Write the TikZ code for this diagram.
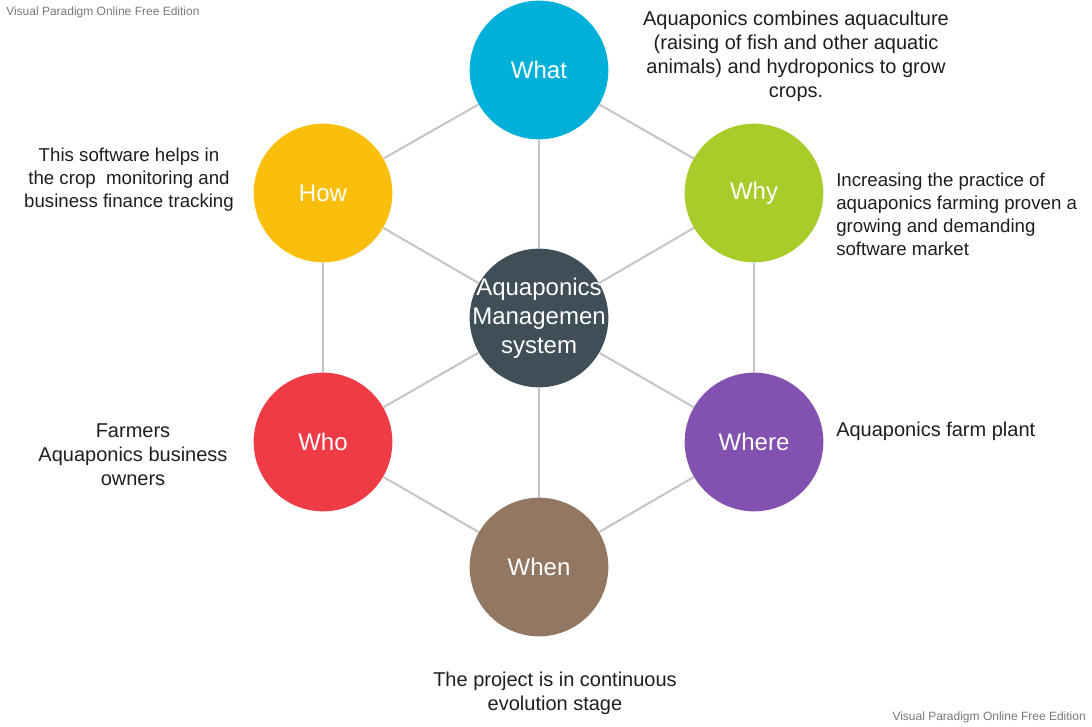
\documentclass[tikz,border=0pt]{standalone}
\usepackage{fontspec}
\setmainfont{Liberation Sans}
\usepackage{xcolor}
\usetikzlibrary{positioning}
\definecolor{whatblue}{RGB}{0,176,216}
\definecolor{whygreen}{RGB}{168,204,42}
\definecolor{howyellow}{RGB}{250,190,12}
\definecolor{whored}{RGB}{239,59,70}
\definecolor{wherepurple}{RGB}{131,82,176}
\definecolor{whenbrown}{RGB}{146,120,98}
\definecolor{coreslate}{RGB}{64,78,87}
\definecolor{linkgray}{RGB}{196,196,196}
\definecolor{notetext}{RGB}{30,30,30}
\definecolor{markgray}{RGB}{120,120,120}

\begin{document}
\begin{tikzpicture}[x=0.75pt,y=-0.75pt,
    bubble/.style={circle, minimum size=104pt, inner sep=0pt, text=white,
        align=center, font=\fontsize{18}{21.75}\selectfont},
    bubbletext/.style={inner sep=0pt, text=white, align=center,
        font=\fontsize{18}{21.75}\selectfont},
    link/.style={draw=linkgray, line width=1.5pt},
    note/.style={text=notetext, inner sep=0pt, font=\fontsize{15}{18}\selectfont},
    smallnote/.style={note, font=\fontsize{14}{17.2}\selectfont},
    watermark/.style={text=markgray, inner sep=0pt, font=\fontsize{9}{11}\selectfont}]
    \useasboundingbox (0,0) rectangle (1092,727);

    % --- bubbles ---
    \node[bubble, fill=coreslate]   (core)  at (539,318) {};
    \node[bubbletext]               (coretext) at (core) {Aquaponics\\Managemen\\system};
    \node[bubble, fill=whatblue]    (what)  at (539,70)  {What};
    \node[bubble, fill=whygreen]    (why)   at (754,193) {Why};
    \node[bubble, fill=wherepurple] (where) at (754,442) {Where};
    \node[bubble, fill=whenbrown]   (when)  at (539,567) {When};
    \node[bubble, fill=whored]      (who)   at (323,442) {Who};
    \node[bubble, fill=howyellow]   (how)   at (323,193) {How};

    % --- spokes and rim ---
    \foreach \n in {what,why,where,when,who,how} {
        \draw[link] (core) -- (\n);
    }
    \draw[link] (what) -- (why);
    \draw[link] (why) -- (where);
    \draw[link] (where) -- (when);
    \draw[link] (when) -- (who);
    \draw[link] (who) -- (how);
    \draw[link] (how) -- (what);

    % --- notes ---
    \node[note, align=center] (whatnote) at (796,56)
        {Aquaponics combines aquaculture\\(raising of fish and other aquatic\\animals) and hydroponics to grow\\crops.};
    \node[smallnote, align=left, anchor=west] (whynote) at (836,214)
        {Increasing the practice of\\aquaponics farming proven a\\growing and demanding\\software market};
    \node[note, align=left, anchor=west] (wherenote) at (836,431)
        {Aquaponics farm plant};
    \node[note, align=center] (whennote) at (555,693)
        {The project is in continuous\\evolution stage};
    \node[note, align=center] (whonote) at (133,455)
        {Farmers\\Aquaponics business\\owners};
    \node[smallnote, align=center] (hownote) at (129,180)
        {This software helps in\\the crop\ \ monitoring and\\business finance tracking};

    % --- watermarks ---
    \node[watermark, anchor=west] (marktop) at (6,12) {Visual Paradigm Online Free Edition};
    \node[watermark, anchor=east] (markbottom) at (1086,717) {Visual Paradigm Online Free Edition};
\end{tikzpicture}
\end{document}
